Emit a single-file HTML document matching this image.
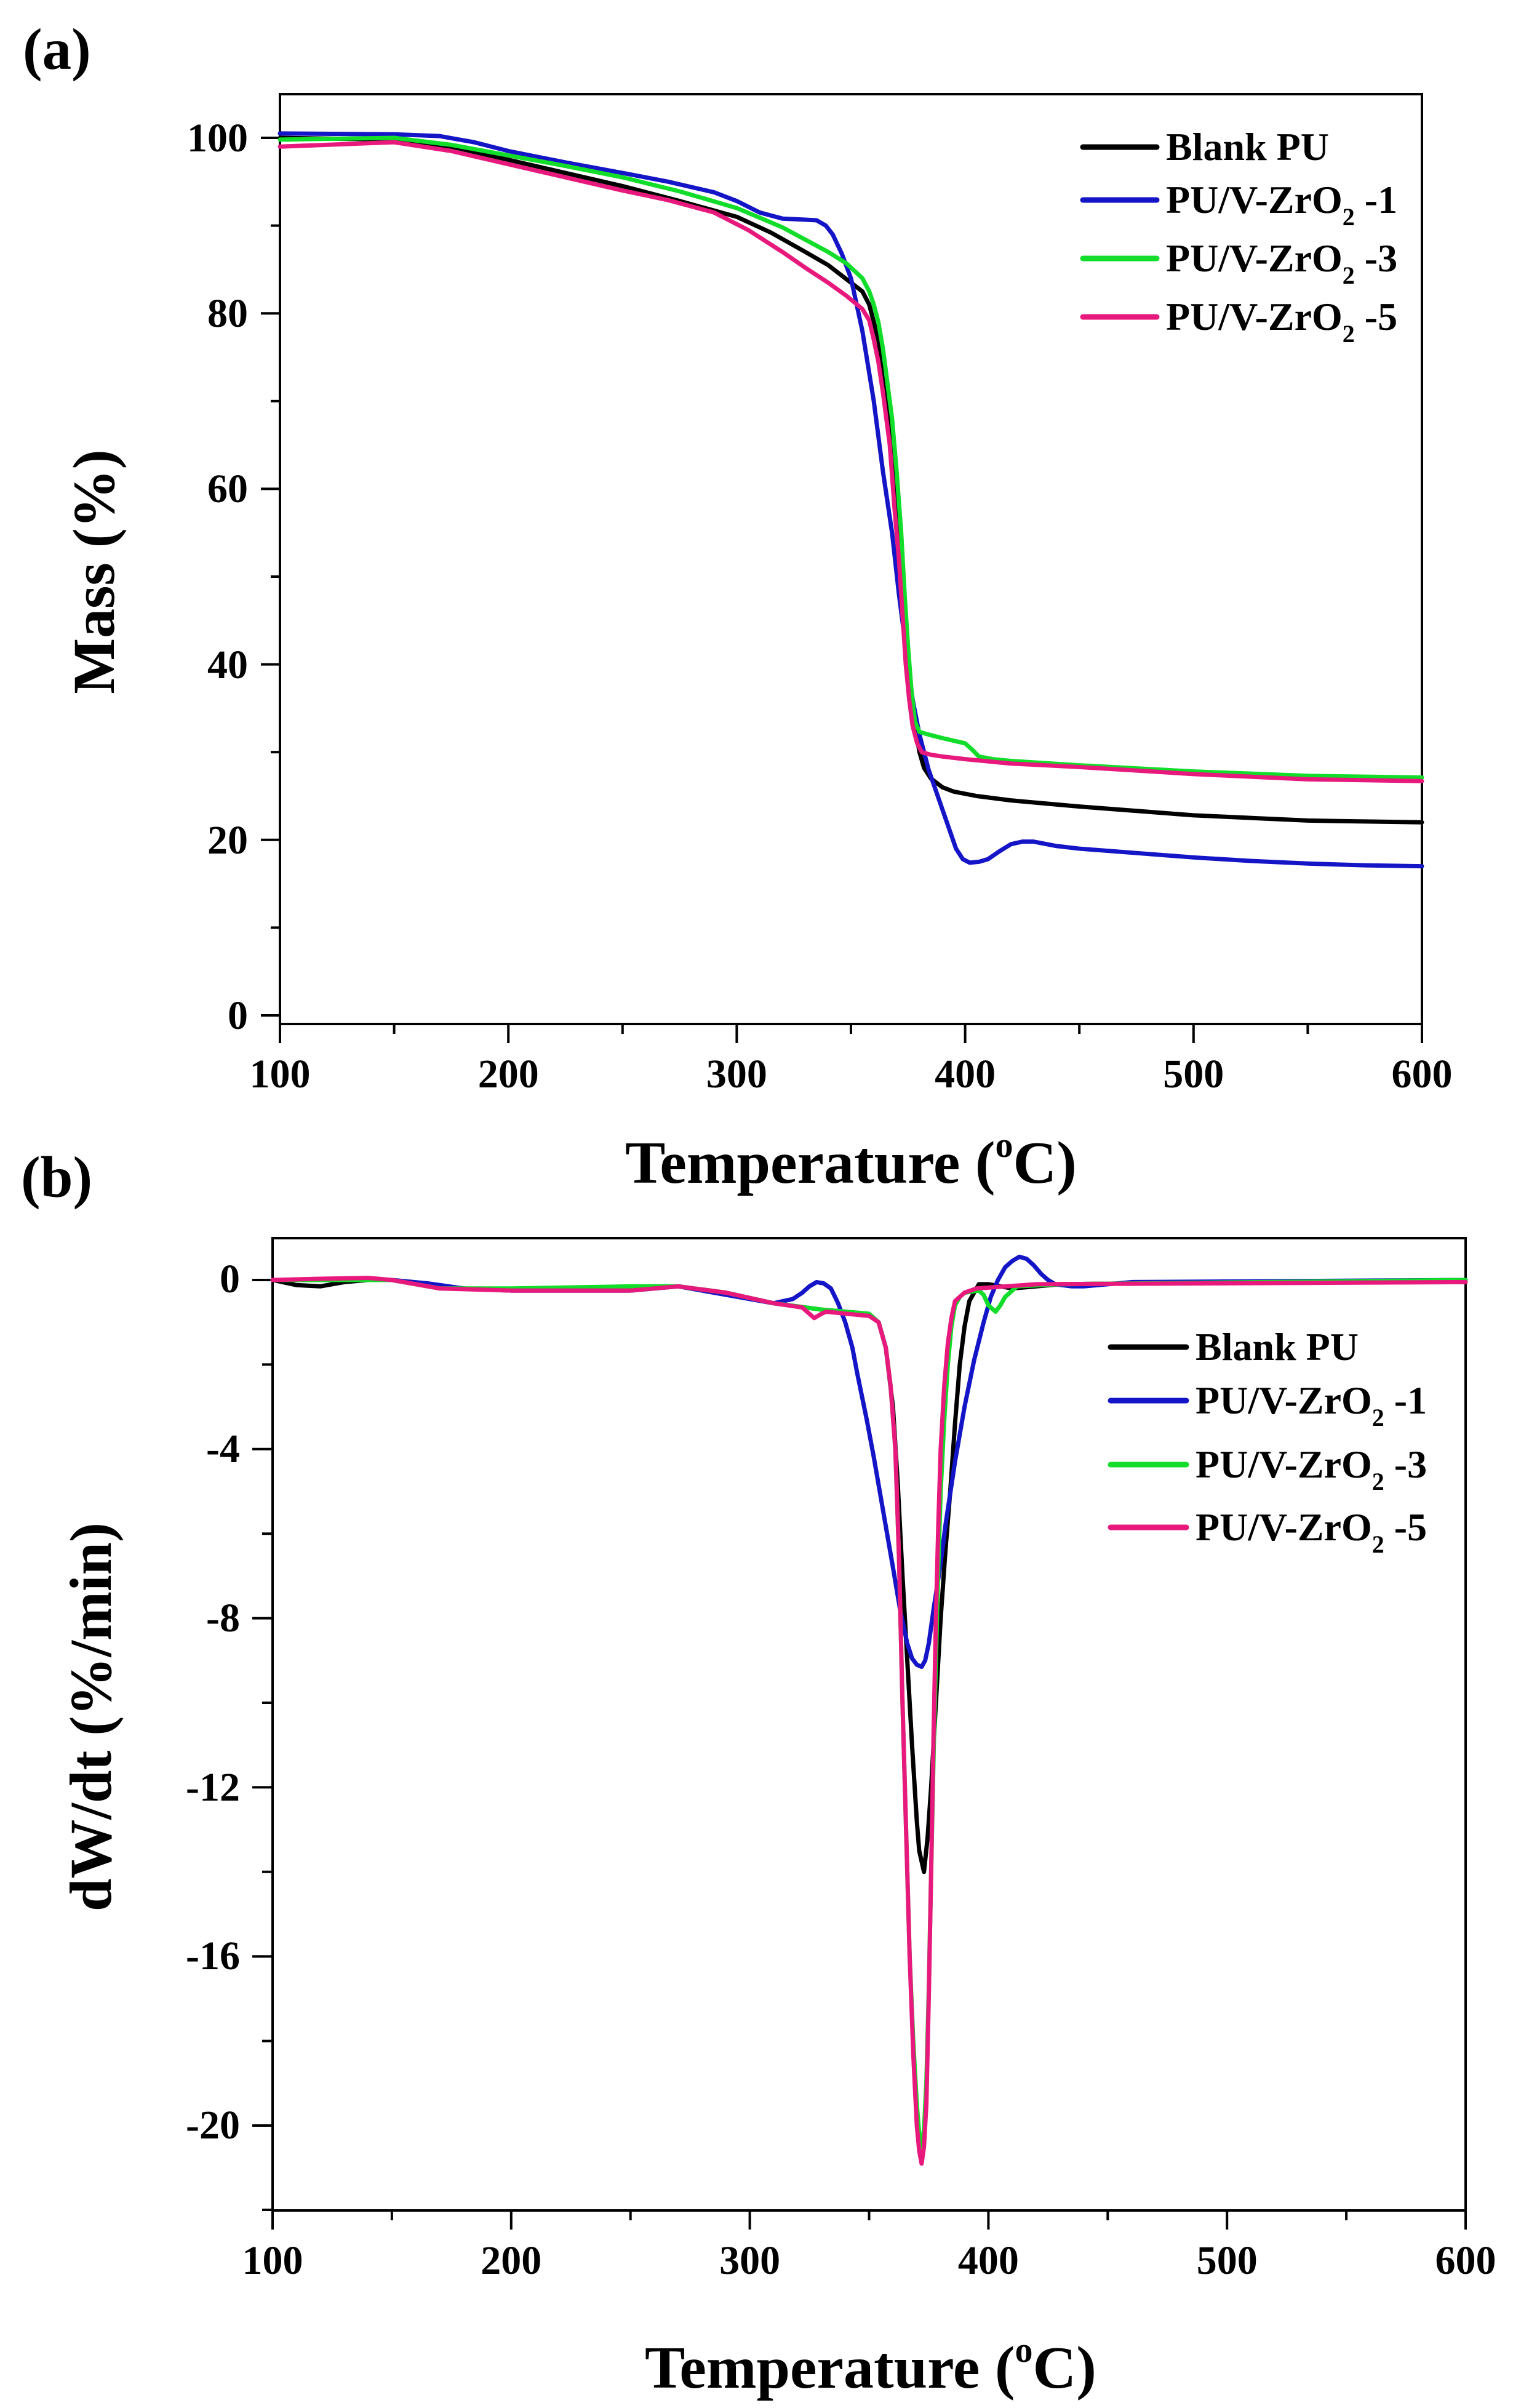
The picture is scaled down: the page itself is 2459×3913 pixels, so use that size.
<!DOCTYPE html>
<html><head><meta charset="utf-8"><style>
html,body{margin:0;padding:0;background:#fff;}
svg{display:block;font-family:"Liberation Serif","Times New Roman",serif;}
text{font-family:"Liberation Serif","Times New Roman",serif;font-weight:bold;fill:#000;}
</style></head><body>
<svg width="2459" height="3913" viewBox="0 0 2459 3913" xmlns="http://www.w3.org/2000/svg" font-family="Liberation Serif, Times New Roman, serif" font-weight="bold">
<rect width="2459" height="3913" fill="#fff"/>

<!-- ============ PANEL A ============ -->
<text x="37" y="112" font-size="95">(a)</text>
<rect x="455" y="153" width="1856" height="1511" fill="none" stroke="#000" stroke-width="4"/>
<g stroke="#000" stroke-width="4">
<line x1="455" y1="1664" x2="455" y2="1695"/><line x1="826.2" y1="1664" x2="826.2" y2="1695"/><line x1="1197.4" y1="1664" x2="1197.4" y2="1695"/><line x1="1568.6" y1="1664" x2="1568.6" y2="1695"/><line x1="1939.8" y1="1664" x2="1939.8" y2="1695"/><line x1="2311" y1="1664" x2="2311" y2="1695"/>
<line x1="640.6" y1="1664" x2="640.6" y2="1680"/><line x1="1011.8" y1="1664" x2="1011.8" y2="1680"/><line x1="1383" y1="1664" x2="1383" y2="1680"/><line x1="1754.2" y1="1664" x2="1754.2" y2="1680"/><line x1="2125.4" y1="1664" x2="2125.4" y2="1680"/>
<line x1="424" y1="1650" x2="455" y2="1650"/><line x1="424" y1="1364.8" x2="455" y2="1364.8"/><line x1="424" y1="1079.6" x2="455" y2="1079.6"/><line x1="424" y1="794.4" x2="455" y2="794.4"/><line x1="424" y1="509.2" x2="455" y2="509.2"/><line x1="424" y1="224" x2="455" y2="224"/>
<line x1="440" y1="1507.4" x2="455" y2="1507.4"/><line x1="440" y1="1222.2" x2="455" y2="1222.2"/><line x1="440" y1="937" x2="455" y2="937"/><line x1="440" y1="651.8" x2="455" y2="651.8"/><line x1="440" y1="366.6" x2="455" y2="366.6"/>
</g>
<g font-size="66" text-anchor="end">
<text x="403" y="1672">0</text><text x="403" y="1387">20</text><text x="403" y="1102">40</text><text x="403" y="816">60</text><text x="403" y="531">80</text><text x="403" y="246">100</text>
</g>
<g font-size="66" text-anchor="middle">
<text x="455" y="1767">100</text><text x="826.2" y="1767">200</text><text x="1197.4" y="1767">300</text><text x="1568.6" y="1767">400</text><text x="1939.8" y="1767">500</text><text x="2311" y="1767">600</text>
</g>
<text x="1383" y="1922" font-size="98" text-anchor="middle">Temperature (<tspan font-size="58" dy="-42">o</tspan><tspan dy="42">C)</tspan></text>
<text transform="translate(185,929) rotate(-90)" font-size="96" text-anchor="middle">Mass (%)</text>

<g transform="matrix(3.712,0,0,-14.26,83.8,1650)" fill="none" stroke-width="7" stroke-linejoin="round" stroke-linecap="round">
<polyline vector-effect="non-scaling-stroke" stroke="#000" points="100,100 150,99.8 175,99 200,97.5 225,96 250,94.5 275,92.8 300,91 315,89.2 330,87 340,85.5 350,83.5 355,82.5 358,81 362,77 366,70 370,60 373,48 376,38 378,33 380,30 382,28.2 385,27 390,26 395,25.5 405,25 420,24.5 450,23.8 500,22.8 550,22.2 600,22"/>
<polyline vector-effect="non-scaling-stroke" stroke="#1515c8" points="100,100.5 150,100.4 170,100.2 185,99.5 200,98.5 225,97.2 250,96 270,95 290,93.8 300,92.8 310,91.5 320,90.8 328,90.7 335,90.6 339,90 342,89 346,86.8 350,84 355,78 360,70 364,62 368,55 371,48 374,42 377,36 380,32 384,28 388,25 392,22 396,19 399,17.8 402,17.4 406,17.5 410,17.8 415,18.7 420,19.5 425,19.8 430,19.8 440,19.3 450,19 475,18.5 500,18 525,17.6 550,17.3 575,17.1 600,17"/>
<polyline vector-effect="non-scaling-stroke" stroke="#12dd2a" points="100,99.8 150,100 175,99.2 200,98 225,96.8 250,95.5 275,93.9 300,92 320,89.8 340,87 348,85.7 355,84 358,82.5 360,81 362,79 364,76 366,72 368,68 370,62 372,55 373.5,48 375,42 376.5,37 378,33.5 380,32.3 384,32 390,31.6 395,31.3 400,31 403,30.3 406,29.5 412,29.2 420,29 450,28.5 500,27.8 550,27.3 600,27.1"/>
<polyline vector-effect="non-scaling-stroke" stroke="#e8197c" points="100,99 150,99.5 175,98.5 200,97 225,95.5 250,94 270,92.9 290,91.5 305,89.5 320,87 330,85.2 340,83.5 348,82 355,80.5 358,79.2 360,77 362,74.5 364,71 367,65 369,58 371,52 372.5,46 374,40 375.5,36 377,33 379,31 381,30 385,29.7 390,29.5 400,29.2 420,28.7 450,28.3 500,27.5 550,26.9 600,26.7"/>
</g>

<g stroke-width="9" stroke-linecap="round">
<line x1="1760" y1="239" x2="1880" y2="239" stroke="#000"/>
<line x1="1760" y1="325" x2="1880" y2="325" stroke="#1515c8"/>
<line x1="1760" y1="420" x2="1880" y2="420" stroke="#12dd2a"/>
<line x1="1760" y1="515" x2="1880" y2="515" stroke="#e8197c"/>
</g>
<g font-size="64">
<text x="1895" y="260">Blank PU</text>
<text x="1895" y="346">PU/V-ZrO<tspan font-size="40" dy="20">2</tspan><tspan dy="-20"> -1</tspan></text>
<text x="1895" y="441">PU/V-ZrO<tspan font-size="40" dy="20">2</tspan><tspan dy="-20"> -3</tspan></text>
<text x="1895" y="536">PU/V-ZrO<tspan font-size="40" dy="20">2</tspan><tspan dy="-20"> -5</tspan></text>
</g>

<!-- ============ PANEL B ============ -->
<text x="34" y="1945" font-size="95">(b)</text>
<rect x="443" y="2012" width="1939" height="1580" fill="none" stroke="#000" stroke-width="4"/>
<g stroke="#000" stroke-width="4">
<line x1="443" y1="3592" x2="443" y2="3623"/><line x1="830.8" y1="3592" x2="830.8" y2="3623"/><line x1="1218.6" y1="3592" x2="1218.6" y2="3623"/><line x1="1606.4" y1="3592" x2="1606.4" y2="3623"/><line x1="1994.2" y1="3592" x2="1994.2" y2="3623"/><line x1="2382" y1="3592" x2="2382" y2="3623"/>
<line x1="636.9" y1="3592" x2="636.9" y2="3608"/><line x1="1024.7" y1="3592" x2="1024.7" y2="3608"/><line x1="1412.5" y1="3592" x2="1412.5" y2="3608"/><line x1="1800.3" y1="3592" x2="1800.3" y2="3608"/><line x1="2188.1" y1="3592" x2="2188.1" y2="3608"/>
<line x1="410" y1="2080" x2="443" y2="2080"/><line x1="410" y1="2354.8" x2="443" y2="2354.8"/><line x1="410" y1="2629.6" x2="443" y2="2629.6"/><line x1="410" y1="2904.4" x2="443" y2="2904.4"/><line x1="410" y1="3179.2" x2="443" y2="3179.2"/><line x1="410" y1="3454" x2="443" y2="3454"/>
<line x1="426" y1="2217.4" x2="443" y2="2217.4"/><line x1="426" y1="2492.2" x2="443" y2="2492.2"/><line x1="426" y1="2767" x2="443" y2="2767"/><line x1="426" y1="3041.8" x2="443" y2="3041.8"/><line x1="426" y1="3316.6" x2="443" y2="3316.6"/><line x1="426" y1="3591" x2="443" y2="3591"/>
</g>
<g font-size="66" text-anchor="end">
<text x="390" y="2100">0</text><text x="390" y="2376">-4</text><text x="390" y="2651">-8</text><text x="390" y="2926">-12</text><text x="390" y="3200">-16</text><text x="390" y="3475">-20</text>
</g>
<g font-size="66" text-anchor="middle">
<text x="443" y="3695">100</text><text x="830.8" y="3695">200</text><text x="1218.6" y="3695">300</text><text x="1606.4" y="3695">400</text><text x="1994.2" y="3695">500</text><text x="2382" y="3695">600</text>
</g>
<text x="1415" y="3880" font-size="98" text-anchor="middle">Temperature (<tspan font-size="58" dy="-42">o</tspan><tspan dy="42">C)</tspan></text>
<text transform="translate(180,2790) rotate(-90)" font-size="96" text-anchor="middle">dW/dt (%/min)</text>

<g transform="matrix(3.878,0,0,-68.7,55.2,2080)" fill="none" stroke-width="7" stroke-linejoin="round" stroke-linecap="round">
<polyline vector-effect="non-scaling-stroke" stroke="#000" points="100,0 110,-0.12 120,-0.15 130,-0.05 140,0 150,0 165,-0.1 180,-0.2 200,-0.25 250,-0.25 270,-0.15 290,-0.3 310,-0.55 330,-0.7 350,-0.8 354,-1 357,-1.6 360,-3 362,-4.8 364,-7 366,-9 368,-11 370,-12.8 371,-13.5 373,-14 374.5,-13.2 376,-12 378,-10 380,-8 382,-6.4 384,-5 386,-3.4 388,-2 390,-1.1 392,-0.5 396,-0.1 400,-0.1 410,-0.2 430,-0.1 600,0"/>
<polyline vector-effect="non-scaling-stroke" stroke="#1515c8" points="100,0 150,0 165,-0.08 180,-0.2 200,-0.25 250,-0.25 270,-0.15 290,-0.35 310,-0.55 318,-0.45 322,-0.3 325,-0.15 328,-0.05 331,-0.08 334,-0.2 337,-0.55 340,-1 343,-1.6 345,-2.2 349,-3.3 352,-4.2 356,-5.5 360,-6.8 363,-7.8 366,-8.6 368,-8.95 370,-9.1 372,-9.15 373.5,-9 375,-8.6 377,-7.8 380,-6.7 382,-5.8 386,-4.3 390,-3 394,-1.9 398,-1 401,-0.4 404,0 407,0.3 410,0.45 413,0.55 416,0.5 419,0.35 422,0.15 425,0 428,-0.1 435,-0.15 440,-0.15 460,-0.05 600,0"/>
<polyline vector-effect="non-scaling-stroke" stroke="#12dd2a" points="100,0 120,0 140,0 150,0 170,-0.2 200,-0.2 250,-0.15 270,-0.15 290,-0.3 310,-0.55 330,-0.7 350,-0.8 354,-1 357,-1.6 359,-2.5 361,-4 362.5,-6.5 364,-10 365.5,-13 367,-16 368.5,-18 370,-19.5 371,-20.2 372,-20.5 373,-20.1 374,-19 375,-16.8 376,-14 377,-11.3 378,-9 379,-6.8 380,-5 381.5,-3.3 383,-2 384.5,-1.1 386,-0.6 388,-0.4 390,-0.3 396,-0.25 398,-0.35 400,-0.6 403,-0.75 405,-0.6 407,-0.4 412,-0.15 430,-0.1 600,0"/>
<polyline vector-effect="non-scaling-stroke" stroke="#e8197c" points="100,0 120,0.03 140,0.05 150,0 170,-0.2 200,-0.25 250,-0.25 270,-0.15 290,-0.3 310,-0.55 322,-0.65 325,-0.8 327,-0.9 330,-0.8 332,-0.75 350,-0.85 354,-1 357,-1.6 359,-2.5 361,-4 362.5,-6.5 364,-10 365.5,-13 367,-16 368.5,-18.3 370,-20 371,-20.6 372,-20.9 373,-20.5 374,-19.5 375,-17 376,-14 377,-10.8 378,-8 379,-5.8 380,-4 381.5,-2.5 383,-1.5 384.5,-0.9 386,-0.5 390,-0.3 395,-0.2 420,-0.1 600,-0.05"/>
</g>

<g stroke-width="9" stroke-linecap="round">
<line x1="1805" y1="2189" x2="1928" y2="2189" stroke="#000"/>
<line x1="1805" y1="2276" x2="1928" y2="2276" stroke="#1515c8"/>
<line x1="1805" y1="2380" x2="1928" y2="2380" stroke="#12dd2a"/>
<line x1="1805" y1="2482" x2="1928" y2="2482" stroke="#e8197c"/>
</g>
<g font-size="64">
<text x="1943" y="2210">Blank PU</text>
<text x="1943" y="2297">PU/V-ZrO<tspan font-size="40" dy="20">2</tspan><tspan dy="-20"> -1</tspan></text>
<text x="1943" y="2401">PU/V-ZrO<tspan font-size="40" dy="20">2</tspan><tspan dy="-20"> -3</tspan></text>
<text x="1943" y="2503">PU/V-ZrO<tspan font-size="40" dy="20">2</tspan><tspan dy="-20"> -5</tspan></text>
</g>
</svg>
</body></html>
